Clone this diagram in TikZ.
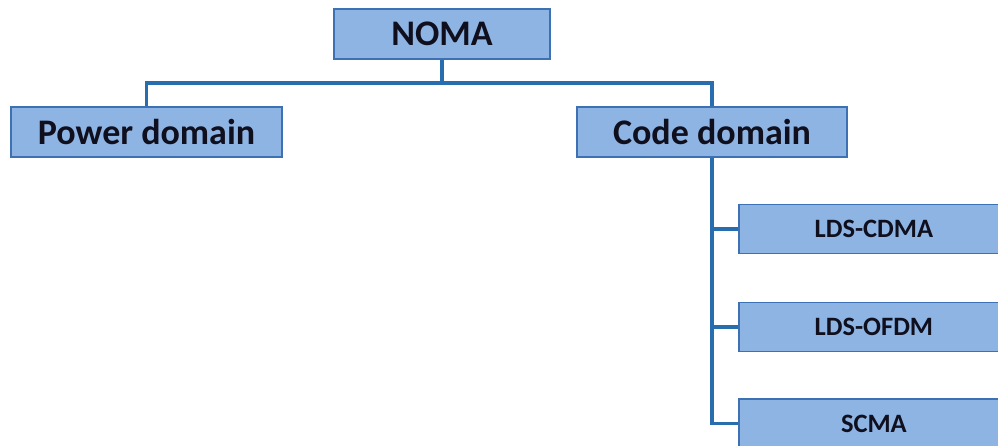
\documentclass[tikz,border=0pt]{standalone}
\usepackage{fontspec}
\setmainfont{Carlito}
\definecolor{boxfill}{RGB}{142,180,227}
\definecolor{boxedge}{RGB}{62,112,180}
\definecolor{linkblue}{RGB}{40,110,175}
\definecolor{ink}{RGB}{15,15,30}
\begin{document}
\begin{tikzpicture}[x=1pt,y=-1pt,
  blk/.style={draw=boxedge,line width=1.8pt,fill=boxfill,inner sep=0pt,
    font=\bfseries,text=ink},
  bigblk/.style={blk,minimum height=50pt,font=\bfseries\fontsize{36}{36}\selectfont},
  smallblk/.style={blk,minimum width=270pt,minimum height=49pt,
    font=\bfseries\fontsize{26.5}{26.5}\selectfont},
  link/.style={draw=linkblue,line width=3.2pt}]
\useasboundingbox (0,0) rectangle (998,446);
\clip (0,0) rectangle (998,446);
% top level and the two families
\node[bigblk,minimum width=216pt] (noma) at (442,34) {NOMA};
\node[bigblk,minimum width=271pt] (power) at (146.5,132) {Power domain};
\node[bigblk,minimum width=270pt] (code) at (712,132) {Code domain};
% code-domain schemes
\node[smallblk,anchor=west] (cdma) at (738,229) {LDS-CDMA};
\node[smallblk,anchor=west] (ofdm) at (738,327) {LDS-OFDM};
\node[smallblk,anchor=west] (scma) at (738,423.5) {SCMA};
% tree connectors
\coordinate (split) at (442,83);
\draw[link] (noma.south) -- (split);
\draw[link] (split) -| (power.north);
\draw[link] (split) -| (code.north);
\draw[link] (code.south) |- (scma.west);
\draw[link] (code.south |- cdma.west) -- (cdma.west);
\draw[link] (code.south |- ofdm.west) -- (ofdm.west);
\end{tikzpicture}
\end{document}
